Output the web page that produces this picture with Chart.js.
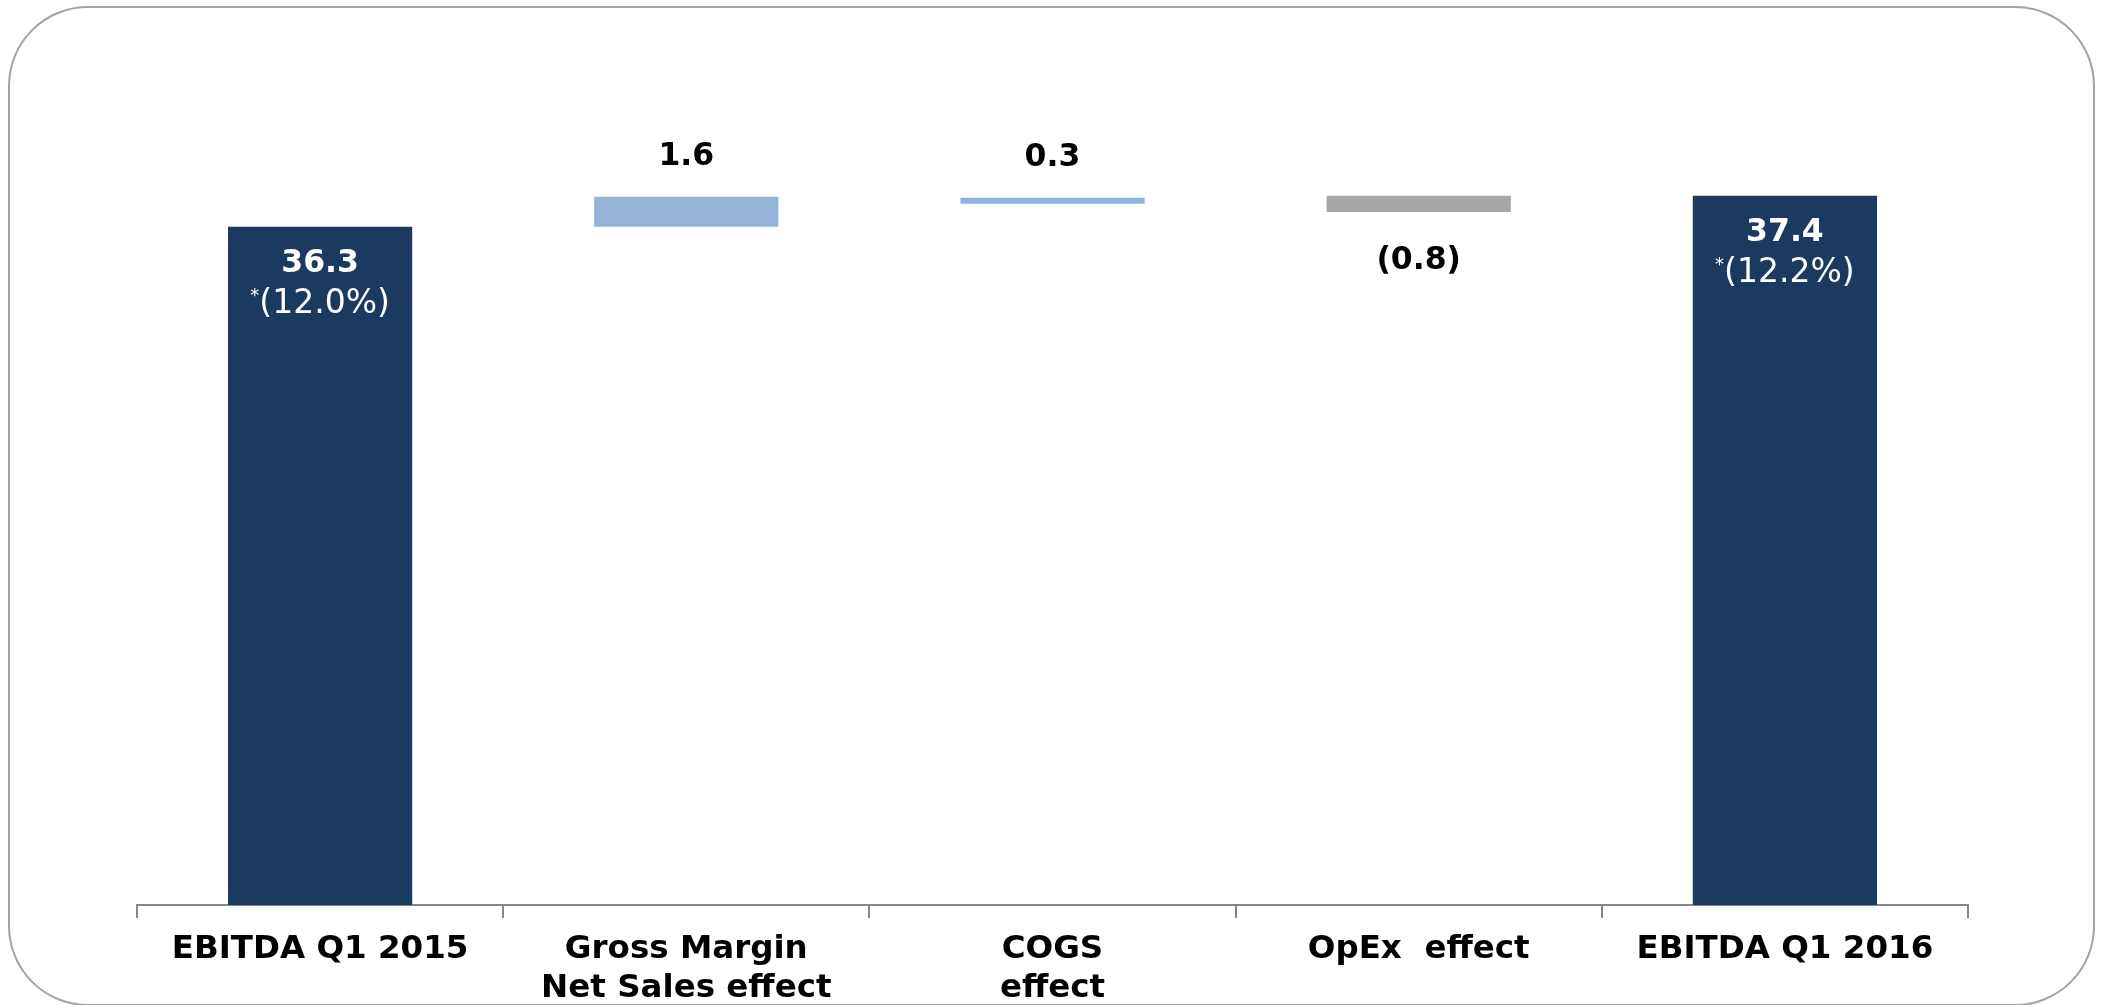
<!DOCTYPE html>
<html>
<head>
<meta charset="utf-8">
<script src="https://cdn.jsdelivr.net/npm/chart.js@4/dist/chart.umd.min.js"></script>
<style>
html,body{margin:0;padding:0;background:#fff;overflow:hidden}
#wrap{position:relative;width:2104px;height:1005px}
#frame{position:absolute;left:8px;top:6px;width:2087px;height:1000px;box-sizing:border-box;border:2px solid #a3a3a3;border-radius:80px}
#c{position:absolute;left:0;top:0}
</style>
</head>
<body>
<div id="wrap">
  <div id="frame"></div>
  <canvas id="c" width="2104" height="1005"></canvas>
</div>
<script>
// ---- data ----
const categories = ['EBITDA Q1 2015', ['Gross Margin', 'Net Sales effect'], ['COGS', 'effect'], 'OpEx  effect', 'EBITDA Q1 2016'];
const barStart = [0, 36.3, 37.52, 37.95, 0];
const barEnd   = [36.3, 37.9, 37.84, 37.08, 37.95];
const valueLabels = ['36.3', '1.6', '0.3', '(0.8)', '37.4'];
const shareLabels = ['(12.0%)', '', '', '', '(12.2%)'];
const barKinds = ['total', 'up', 'up', 'down', 'total'];
const barColors = ['#1b3a5f', '#95b3d7', '#8db3e2', '#a6a6a6', '#1b3a5f'];

const FONT = '"DejaVu Sans", Verdana, sans-serif';

const labelPlugin = {
  id: 'waterfallLabels',
  afterDatasetsDraw(chart) {
    const ctx = chart.ctx;
    const meta = chart.getDatasetMeta(0);
    meta.data.forEach((bar, i) => {
      const top = Math.min(bar.y, bar.base);
      const bottom = Math.max(bar.y, bar.base);
      ctx.save();
      ctx.textBaseline = 'middle';
      ctx.textAlign = 'center';
      if (barKinds[i] === 'total') {
        ctx.fillStyle = '#ffffff';
        ctx.font = 'bold 31.5px ' + FONT;
        ctx.fillText(valueLabels[i], bar.x, top + 37);
        ctx.font = '33px ' + FONT;
        const w = ctx.measureText(shareLabels[i]).width;
        ctx.font = '18px ' + FONT;
        const ws = ctx.measureText('*').width;
        const sx = bar.x - (w + ws) / 2;
        ctx.textAlign = 'left';
        ctx.fillText('*', sx, top + 70);
        ctx.font = '33px ' + FONT;
        ctx.fillText(shareLabels[i], sx + ws, top + 78);
      } else if (barKinds[i] === 'up') {
        ctx.fillStyle = '#000000';
        ctx.font = 'bold 31.5px ' + FONT;
        ctx.fillText(valueLabels[i], bar.x, top - 40);
      } else {
        ctx.fillStyle = '#000000';
        ctx.font = 'bold 31.5px ' + FONT;
        ctx.fillText(valueLabels[i], bar.x, bottom + 49);
      }
      ctx.restore();
    });
  }
};

new Chart(document.getElementById('c'), {
  type: 'bar',
  data: {
    labels: categories,
    datasets: [{
      data: barStart.map((s, i) => [s, barEnd[i]]),
      backgroundColor: barColors,
      borderWidth: 0,
      categoryPercentage: 1,
      barPercentage: 0.503
    }]
  },
  options: {
    responsive: false,
    animation: false,
    devicePixelRatio: 1,
    layout: { padding: { left: 137, right: 136, top: 8, bottom: 0 } },
    plugins: { legend: { display: false }, tooltip: { enabled: false } },
    scales: {
      x: {
        grid: { display: true, drawOnChartArea: false, drawTicks: true, tickLength: 13, color: '#868686', lineWidth: 2, offset: true },
        border: { display: true, color: '#868686', width: 2 },
        ticks: { color: '#000000', font: { family: FONT, size: 32.5, weight: 'bold', lineHeight: 1.2 }, padding: 12, maxRotation: 0, autoSkip: false },
        afterFit(scale) { scale.height = 100; }
      },
      y: { display: false, min: 0, max: 48 }
    }
  },
  plugins: [labelPlugin]
});
</script>
</body>
</html>
